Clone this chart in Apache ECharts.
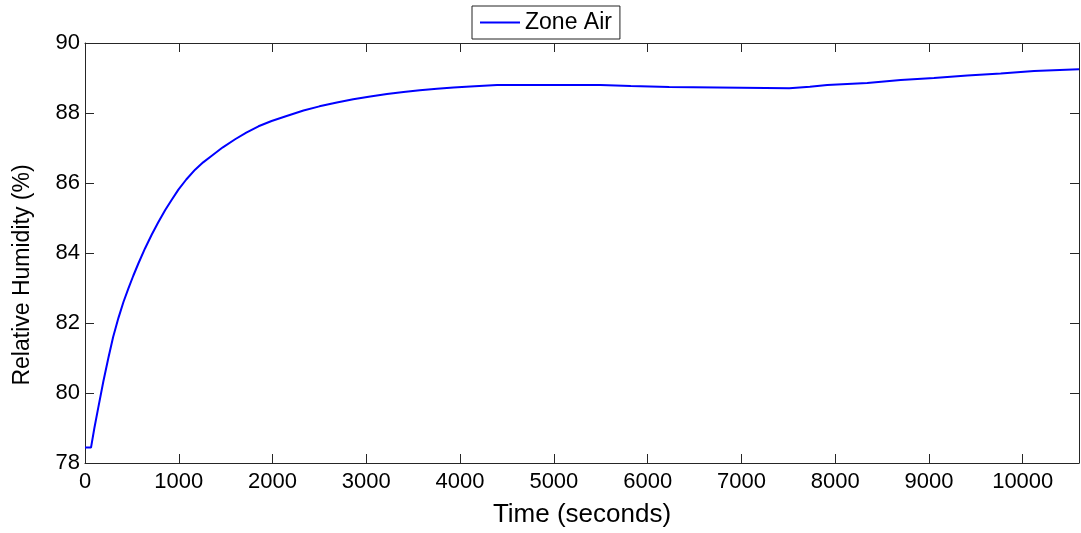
<!DOCTYPE html>
<html>
<head>
<meta charset="utf-8">
<script src="https://cdn.jsdelivr.net/npm/echarts@6/dist/echarts.min.js"></script>
<style>
  html, body { margin: 0; padding: 0; background: #fff; }
  #chart { width: 1081px; height: 533px; }
</style>
</head>
<body>
<div id="chart"></div>
<script>
// time (s) and zone air relative humidity (%)
var times = [0, 64, 100, 142, 195, 249, 300, 356, 410, 463, 515, 569, 640, 711, 780, 854, 920, 996,
  1080, 1174, 1260, 1352, 1470, 1601, 1720, 1850, 1990, 2134, 2330, 2500, 2686, 2860, 3042, 3220,
  3397, 3570, 3753, 3930, 4109, 4394, 5496, 5820, 6230, 7510, 7730, 7915,
  8342, 8698, 9053, 9409, 9765, 10121, 10600];
var humidity = [78.44, 78.44, 79.0, 79.59, 80.32, 81.0, 81.6, 82.14, 82.6, 82.99, 83.35, 83.7, 84.13, 84.52, 84.87, 85.22, 85.5, 85.81,
  86.1, 86.38, 86.59, 86.78, 87.02, 87.25, 87.44, 87.62, 87.77, 87.9, 88.07, 88.19, 88.3, 88.39, 88.47, 88.54,
  88.6, 88.65, 88.69, 88.73, 88.76, 88.8, 88.8, 88.77, 88.74, 88.71, 88.75, 88.8,
  88.86, 88.94, 89.0, 89.07, 89.13, 89.2, 89.25];
var seriesName = 'Zone Air';

var points = times.map(function (t, i) { return [t, humidity[i]]; });

var font = 'Liberation Sans, Arial, sans-serif';
var axisColor = '#262626';

var chart = echarts.init(document.getElementById('chart'));

var option = {
  animation: false,
  backgroundColor: '#fff',
  textStyle: { fontFamily: font },
  legend: {
    data: [seriesName],
    left: 472,
    top: 6,
    padding: [5, 8, 5, 8],
    icon: 'rect',
    itemWidth: 40,
    itemHeight: 2,
    itemGap: 4,
    borderColor: '#222',
    borderWidth: 1,
    backgroundColor: '#fff',
    textStyle: { fontSize: 23, color: '#000', fontFamily: font }
  },
  grid: { left: 85, top: 43, right: 2, bottom: 67, containLabel: false },
  xAxis: [{
    type: 'value',
    min: 0,
    max: 10600,
    interval: 1000,
    name: 'Time (seconds)',
    nameLocation: 'middle',
    nameGap: 39,
    nameTextStyle: { fontSize: 26, color: '#000', fontFamily: font },
    axisLine: { lineStyle: { color: axisColor, width: 1 } },
    axisTick: { inside: true, length: 9, lineStyle: { color: axisColor } },
    axisLabel: { fontSize: 22, color: '#000', margin: 8, showMaxLabel: false,
      formatter: function (v) { return String(v); } },
    splitLine: { show: false }
  }, {
    type: 'value',
    position: 'top',
    min: 0,
    max: 10600,
    interval: 1000,
    axisLine: { show: true, lineStyle: { color: axisColor, width: 1 } },
    axisTick: { inside: true, length: 9, lineStyle: { color: axisColor } },
    axisLabel: { show: false },
    splitLine: { show: false }
  }],
  yAxis: [{
    type: 'value',
    position: 'left',
    min: 78,
    max: 90,
    interval: 2,
    name: 'Relative Humidity (%)',
    nameLocation: 'middle',
    nameGap: 51,
    nameTextStyle: { fontSize: 23, color: '#000', fontFamily: font, padding: [0, 44, 0, 0] },
    axisLine: { show: true, onZero: false, lineStyle: { color: axisColor, width: 1 } },
    axisTick: { show: true, inside: true, length: 9, lineStyle: { color: axisColor } },
    axisLabel: { fontSize: 22, color: '#000', margin: 5 },
    splitLine: { show: false }
  }, {
    type: 'value',
    position: 'right',
    min: 78,
    max: 90,
    interval: 2,
    axisLine: { show: true, onZero: false, lineStyle: { color: axisColor, width: 1 } },
    axisTick: { show: true, inside: true, length: 9, lineStyle: { color: axisColor } },
    axisLabel: { show: false },
    splitLine: { show: false }
  }],
  series: [{
    name: seriesName,
    type: 'line',
    data: points,
    symbol: 'none',
    lineStyle: { color: '#0000ff', width: 2 },
    itemStyle: { color: '#0000ff' }
  }]
};

chart.setOption(option);
</script>
</body>
</html>
